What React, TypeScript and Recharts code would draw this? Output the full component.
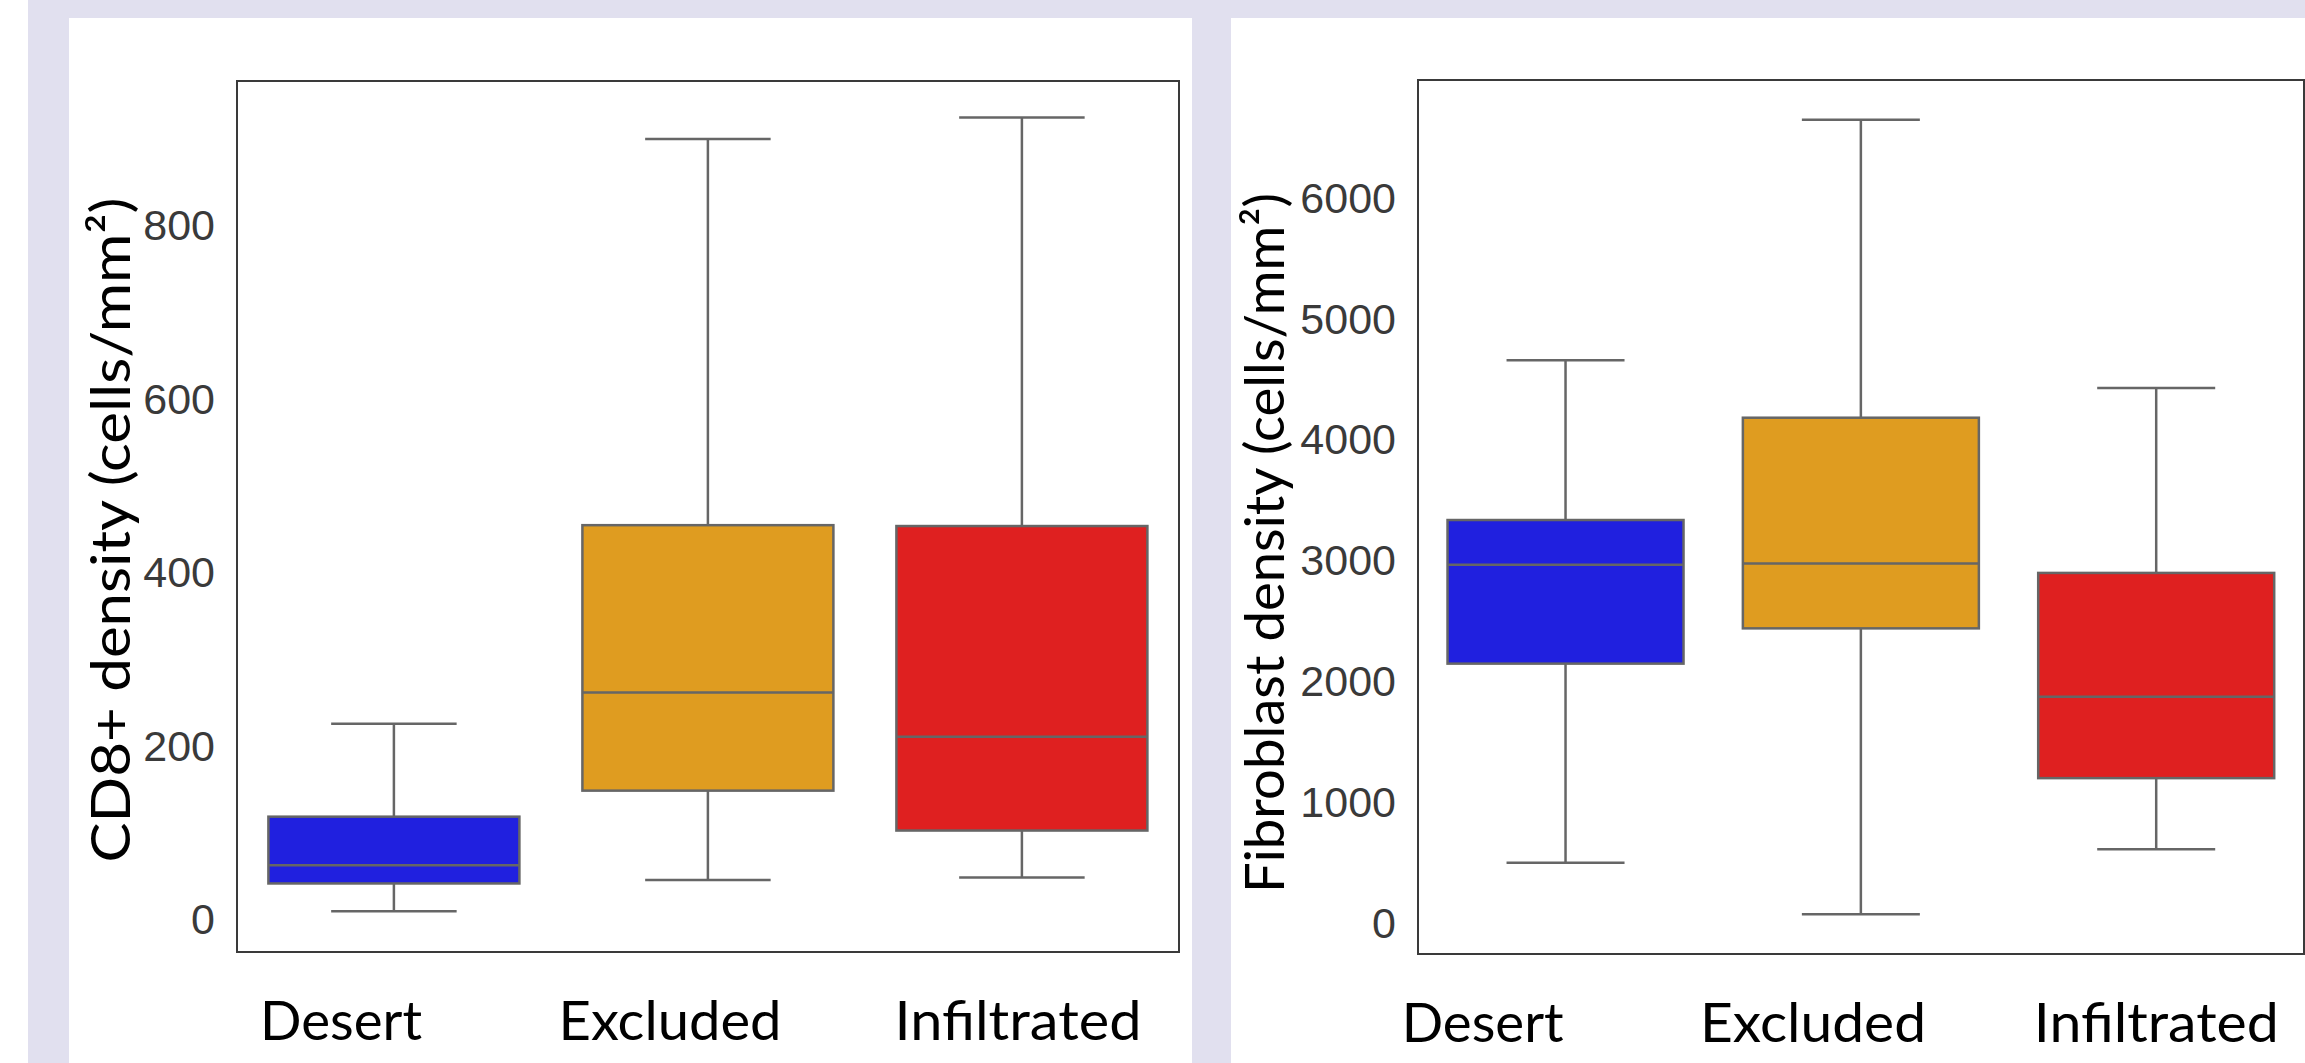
import React from "react";
import { ComposedChart, Bar, XAxis, YAxis, ReferenceArea } from "recharts";

const CATEGORIES = ["Desert", "Excluded", "Infiltrated"];

// CD8+ density (left panel)
const CD8_MIN = [9, 45, 48];
const CD8_Q1 = [41, 148, 102];
const CD8_MEDIAN = [62, 261, 210];
const CD8_Q3 = [118, 454, 453];
const CD8_MAX = [225, 899, 924];
const CD8_TICKS = [0, 200, 400, 600, 800];

// Fibroblast density (right panel)
const FIB_MIN = [493, 67, 606];
const FIB_Q1 = [2142, 2434, 1194];
const FIB_MEDIAN = [2961, 2972, 1867];
const FIB_Q3 = [3331, 4178, 2893];
const FIB_MAX = [4654, 6645, 4424];
const FIB_TICKS = [0, 1000, 2000, 3000, 4000, 5000, 6000];

const BOX_COLORS = ["#2020df", "#df9c20", "#df2020"];
const LINE_COLOR = "#666666";
const FRAME_COLOR = "#3a3a3a";
const LAVENDER = "#e1e0ef";
const TITLE_FONT = "Lato, 'Noto Sans', sans-serif";
const TICK_FONT = "'Liberation Sans', Arial, sans-serif";

type Row = {
  name: string;
  min: number;
  q1: number;
  median: number;
  q3: number;
  max: number;
  range: [number, number];
};

const buildRows = (
  min: number[],
  q1: number[],
  median: number[],
  q3: number[],
  max: number[]
): Row[] =>
  CATEGORIES.map((name, i) => ({
    name,
    min: min[i],
    q1: q1[i],
    median: median[i],
    q3: q3[i],
    max: max[i],
    range: [min[i], max[i]],
  }));

const cd8Rows = buildRows(CD8_MIN, CD8_Q1, CD8_MEDIAN, CD8_Q3, CD8_MAX);
const fibRows = buildRows(FIB_MIN, FIB_Q1, FIB_MEDIAN, FIB_Q3, FIB_MAX);

// the bar spans min..max, so the box parts are placed on the same linear scale
const BoxShape = (props: any) => {
  const { x, y, width, height, payload, index } = props;
  if (!payload || height == null) return null;
  const { min, q1, median, q3, max } = payload as Row;
  const py = (v: number) => y + (height * (max - v)) / (max - min);
  const cx = x + width / 2;
  const capHalf = width / 4;
  const sw = 2.5;
  return (
    <g>
      <line x1={cx} x2={cx} y1={py(max)} y2={py(q3)} stroke={LINE_COLOR} strokeWidth={sw} />
      <line x1={cx} x2={cx} y1={py(q1)} y2={py(min)} stroke={LINE_COLOR} strokeWidth={sw} />
      <line x1={cx - capHalf} x2={cx + capHalf} y1={py(max)} y2={py(max)} stroke={LINE_COLOR} strokeWidth={sw} />
      <line x1={cx - capHalf} x2={cx + capHalf} y1={py(min)} y2={py(min)} stroke={LINE_COLOR} strokeWidth={sw} />
      <rect
        x={x}
        y={py(q3)}
        width={width}
        height={py(q1) - py(q3)}
        fill={BOX_COLORS[index % BOX_COLORS.length]}
        stroke={LINE_COLOR}
        strokeWidth={sw}
      />
      <line x1={x} x2={x + width} y1={py(median)} y2={py(median)} stroke={LINE_COLOR} strokeWidth={sw} />
    </g>
  );
};

interface PanelProps {
  rows: Row[];
  ticks: number[];
  domain: [number, number];
  width: number;
  height: number;
  margin: { top: number; right: number; bottom: number; left: number };
  title: string;
  titleX: number;
  titleY: number;
  titleLength: number;
  labelNudge: number[];
  labelLength: number[];
}

const BoxPanel: React.FC<PanelProps> = ({
  rows,
  ticks,
  domain,
  width,
  height,
  margin,
  title,
  titleX,
  titleY,
  titleLength,
  labelNudge,
  labelLength,
}) => {
  const renderCategory = (p: any) => {
    const i = p.index ?? 0;
    return (
      <text
        x={p.x + labelNudge[i]}
        y={p.y + 88}
        textAnchor="middle"
        fontFamily={TITLE_FONT}
        fontSize={54}
        fill="#000"
        textLength={labelLength[i]}
        lengthAdjust="spacingAndGlyphs"
      >
        {p.payload.value}
      </text>
    );
  };

  const renderTitle = () => (
    <text
      x={titleX}
      y={titleY}
      transform={`rotate(-90 ${titleX} ${titleY})`}
      textAnchor="middle"
      fontFamily={TITLE_FONT}
      fontSize={54}
      fill="#000"
      textLength={titleLength}
      lengthAdjust="spacingAndGlyphs"
    >
      {title}
    </text>
  );

  return (
    <ComposedChart width={width} height={height} data={rows} margin={margin} barCategoryGap="10%">
      <XAxis
        dataKey="name"
        height={100}
        tickLine={false}
        tickSize={0}
        tickMargin={0}
        axisLine={false}
        tick={renderCategory}
        interval={0}
      />
      <YAxis
        type="number"
        domain={domain}
        allowDataOverflow
        ticks={ticks}
        width={100}
        tickLine={false}
        tickSize={0}
        tickMargin={22}
        axisLine={false}
        tick={{ fontFamily: TICK_FONT, fontSize: 43, fill: "#3a3a3a" }}
        label={{ content: renderTitle }}
      />
      <ReferenceArea
        y1={domain[0]}
        y2={domain[1]}
        fill="none"
        stroke={FRAME_COLOR}
        strokeWidth={2}
        ifOverflow="visible"
      />
      <Bar dataKey="range" shape={BoxShape} isAnimationActive={false} />
    </ComposedChart>
  );
};

export default function App() {
  return (
    <div
      style={{
        position: "absolute",
        left: 0,
        top: 0,
        width: 2305,
        height: 1063,
        background: "#fff",
        overflow: "hidden",
      }}
    >
      <div style={{ position: "absolute", left: 28, top: 0, right: 0, bottom: 0, background: LAVENDER }} />
      <div style={{ position: "absolute", left: 69, top: 18, width: 1123, height: 1045, background: "#fff" }} />
      <div style={{ position: "absolute", left: 1231, top: 18, width: 1074, height: 1045, background: "#fff" }} />
      <div style={{ position: "absolute", left: 0, top: 0 }}>
        <BoxPanel
          rows={cd8Rows}
          ticks={CD8_TICKS}
          domain={[-38, 966]}
          width={1192}
          height={1063}
          margin={{ top: 81, right: 13, bottom: 11, left: 137 }}
          title="CD8+ density (cells/mm²)"
          titleX={130}
          titleY={530}
          titleLength={665}
          labelNudge={[-53, -38, -4]}
          labelLength={[162, 223, 247]}
        />
      </div>
      <div style={{ position: "absolute", left: 1232, top: 0 }}>
        <BoxPanel
          rows={fibRows}
          ticks={FIB_TICKS}
          domain={[-262, 6974]}
          width={1073}
          height={1063}
          margin={{ top: 80, right: 1, bottom: 9, left: 86 }}
          title="Fibroblast density (cells/mm²)"
          titleX={52}
          titleY={543}
          titleLength={700}
          labelNudge={[-83, -48, 0]}
          labelLength={[162, 226, 245]}
        />
      </div>
    </div>
  );
}
